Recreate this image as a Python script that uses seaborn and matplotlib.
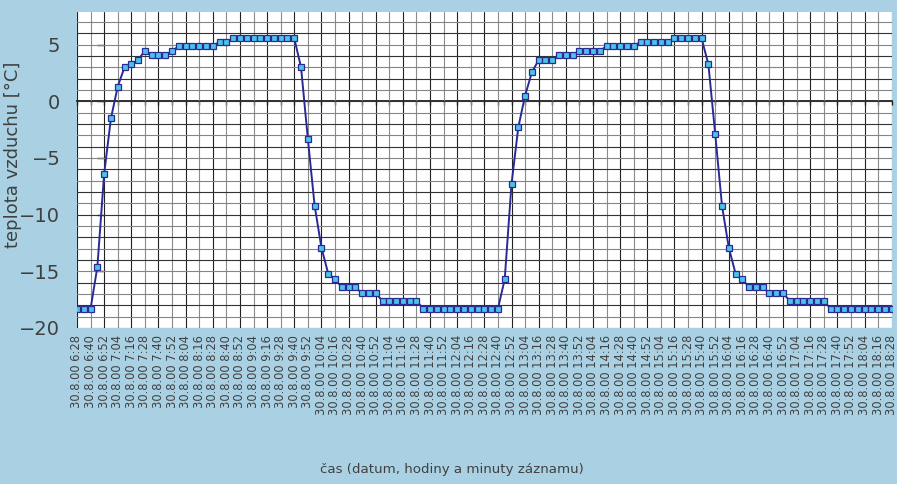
import matplotlib
matplotlib.use("Agg")
import matplotlib.pyplot as plt
import seaborn as sns
import pandas as pd
import numpy as np

# Air temperature logged every 6 minutes on 30.8.2000
teplota = [
    -18.3, -18.3, -18.3, -14.6, -6.4, -1.5, 1.3, 3.0, 3.3, 3.65,
    4.45, 4.05, 4.05, 4.05, 4.45, 4.85, 4.85, 4.85, 4.85, 4.85,
    4.85, 5.25, 5.25, 5.55, 5.55, 5.55, 5.55, 5.55, 5.55, 5.55,
    5.55, 5.55, 5.55, 3.0, -3.3, -9.2, -12.9, -15.2, -15.7, -16.4,
    -16.4, -16.4, -16.95, -16.95, -16.95, -17.6, -17.6, -17.6, -17.6, -17.6,
    -17.6, -18.3, -18.3, -18.3, -18.3, -18.3, -18.3, -18.3, -18.3, -18.3,
    -18.3, -18.3, -18.3, -15.7, -7.3, -2.3, 0.5, 2.55, 3.65, 3.65,
    3.65, 4.05, 4.05, 4.05, 4.45, 4.45, 4.45, 4.45, 4.85, 4.85,
    4.85, 4.85, 4.85, 5.25, 5.25, 5.25, 5.25, 5.25, 5.55, 5.55,
    5.55, 5.55, 5.55, 3.25, -2.85, -9.2, -12.9, -15.2, -15.7, -16.4,
    -16.4, -16.4, -16.95, -16.95, -16.95, -17.6, -17.6, -17.6, -17.6, -17.6,
    -17.6, -18.3, -18.3, -18.3, -18.3, -18.3, -18.3, -18.3, -18.3, -18.3,
    -18.3,
]

# Category labels, one for every second record (12-minute step)
casy = [
    "6:28", "6:40", "6:52", "7:04", "7:16", "7:28", "7:40", "7:52",
    "8:04", "8:16", "8:28", "8:40", "8:52", "9:04", "9:16", "9:28",
    "9:40", "9:52", "10:04", "10:16", "10:28", "10:40", "10:52", "11:04",
    "11:16", "11:28", "11:40", "11:52", "12:04", "12:16", "12:28", "12:40",
    "12:52", "13:04", "13:16", "13:28", "13:40", "13:52", "14:04", "14:16",
    "14:28", "14:40", "14:52", "15:04", "15:16", "15:28", "15:40", "15:52",
    "16:04", "16:16", "16:28", "16:40", "16:52", "17:04", "17:16", "17:28",
    "17:40", "17:52", "18:04", "18:16", "18:28",
]
datum = "30.8.00"
y_ticks = [-20, -15, -10, -5, 0, 5]

BG = "#a9d1e3"
TXT = "#404040"
LINE = "#2a2a96"
FILL = "#4cc4e8"

sns.set_theme(style="white")
plt.rcParams["font.family"] = ["DejaVu Sans"]

df = pd.DataFrame({"zaznam": np.arange(len(teplota)), "teplota": teplota})
tick_pos = np.arange(0, len(teplota), 2)
tick_txt = [f"{datum} {c}" for c in casy]

fig = plt.figure(figsize=(8.97, 4.84), dpi=100, facecolor=BG)
ax = fig.add_axes([77 / 897, 1 - 328 / 484, (891.7 - 77) / 897, (328 - 11.7) / 484])
ax.set_facecolor("white")

ax.set_xlim(0, len(teplota) - 1)
ax.set_ylim(-20, 7.9)

# vertical grid: every labelled category, alternating dark / grey
for k, xp in enumerate(tick_pos):
    ax.axvline(xp, color="#222222" if k % 2 == 0 else "#8a8a8a", lw=0.8, zorder=0.5)
# horizontal grid every 1 degree
for yv in range(-20, 8):
    ax.axhline(yv, color="#333333" if yv % 2 == 0 else "#858585", lw=0.8, zorder=0.5)

sns.lineplot(data=df, x="zaznam", y="teplota", ax=ax, color=LINE, lw=1.4,
             marker="s", markersize=4.2, markerfacecolor=FILL,
             markeredgecolor=LINE, markeredgewidth=0.9, zorder=3)

ax.set_xticks(tick_pos)
ax.set_xticklabels(tick_txt, rotation=90, fontsize=8.3, color=TXT,
                   va="top", ha="center")
ax.set_yticks(y_ticks)
ax.set_yticklabels([str(v).replace("-", "\u2212") for v in y_ticks],
                   fontsize=14, color=TXT)
ax.tick_params(axis="x", length=0, pad=5)
ax.tick_params(axis="y", length=0, pad=12)
ax.set_xlabel("")
ax.set_ylabel("")
for s in ax.spines.values():
    s.set_visible(False)

# category axis crossing at 0 °C with small downward ticks
sec = ax.secondary_xaxis(0, transform=ax.transData)
sec.set_xticks(tick_pos)
sec.tick_params(axis="x", bottom=True, top=False, labelbottom=False, labeltop=False,
                direction="out", length=3, width=1.0, color="#1e1e1e")
for s in sec.spines.values():
    s.set_color("#1e1e1e")
    s.set_linewidth(1.3)

# value axis crossing at the fifth category, its ticks pointing left
vsec = ax.secondary_yaxis(4, transform=ax.transData)
vsec.set_yticks(y_ticks[1:])
vsec.tick_params(axis="y", left=True, right=False, labelleft=False, labelright=False,
                 direction="out", length=5, width=1.0, color="#1e1e1e")
for s in vsec.spines.values():
    s.set_visible(False)

fig.text(452 / 897, 1 - 470 / 484, "čas (datum, hodiny a minuty záznamu)",
         ha="center", va="center", fontsize=9.6, color=TXT)
fig.text(13 / 897, 1 - 155 / 484, "teplota vzduchu [°C]", rotation=90,
         ha="center", va="center", fontsize=13, color=TXT)

fig.savefig("out.png", dpi=100, facecolor=BG)
